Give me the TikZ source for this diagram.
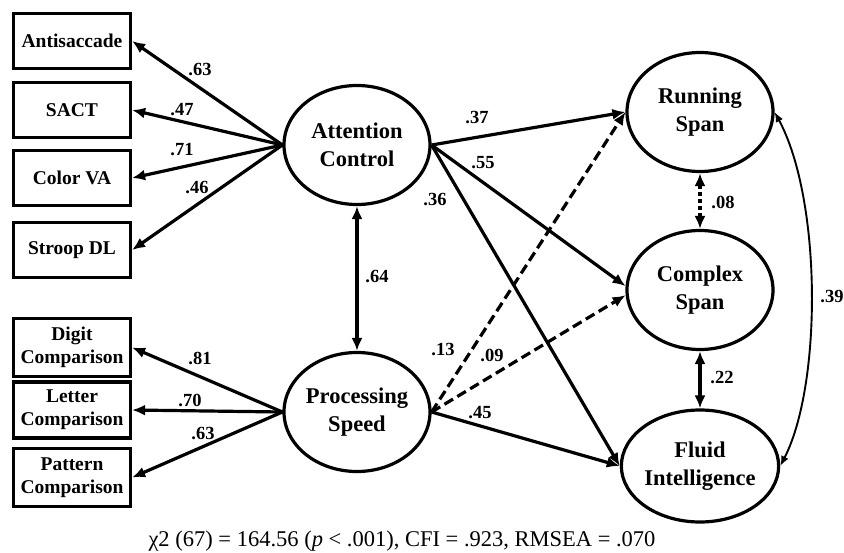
\documentclass[tikz,border=0pt]{standalone}
\usepackage{fontspec}
\setmainfont{Liberation Serif}
\usetikzlibrary{shapes.geometric,arrows.meta}
\begin{document}
\begin{tikzpicture}[x=1pt,y=-1pt,
 box/.style={draw,line width=3.2pt,minimum width=117pt,minimum height=55pt,inner sep=0pt,align=center,font=\fontsize{19.5}{23}\selectfont\bfseries},
 lat/.style={draw,ellipse,line width=3.2pt,minimum width=146pt,minimum height=119pt,inner sep=0pt,align=center,font=\fontsize{22.5}{28}\selectfont\bfseries},
 arr/.style={line width=3.2pt,-{Latex[length=13pt,width=11pt]}},
 darr/.style={line width=3.2pt,{Latex[length=13pt,width=11pt]}-{Latex[length=13pt,width=11pt]}},
 dsh/.style={dash pattern=on 10pt off 5pt},
 dtt/.style={dash pattern=on 4pt off 3pt},
 lbl/.style={font=\fontsize{18.5}{20}\selectfont\bfseries,inner sep=0pt}
]
\useasboundingbox[fill=white] (0,0) rectangle (844,552);

% observed boxes
\node[box] (anti) at (72,41) {Antisaccade};
\node[box] (sact) at (72,110) {SACT};
\node[box] (cva) at (72,178) {Color VA};
\node[box] (sdl) at (72,250) {Stroop DL};
\node[box,minimum height=58pt] (dig) at (72,347.5) {Digit\\Comparison};
\node[box,minimum height=56pt] (let) at (72,410) {Letter\\Comparison};
\node[box,minimum height=58pt] (pat) at (72,477.5) {Pattern\\Comparison};

% latent
\node[lat] (ac) at (357,145) {Attention\\Control};
\node[lat] (ps) at (357,412) {Processing\\Speed};
\node[lat] (rs) at (700,112) {Running\\Span};
\node[lat] (cs) at (700,290) {Complex\\Span};
\node[lat,minimum height=112pt] (fi) at (700,466) {Fluid\\Intelligence};

% loadings
\draw[arr] (ac.west) -- (anti.east);
\draw[arr] (ac.west) -- (sact.east);
\draw[arr] (ac.west) -- (cva.east);
\draw[arr] (ac.west) -- (sdl.east);
\draw[arr] (ps.west) -- (dig.east);
\draw[arr] (ps.west) -- (let.east);
\draw[arr] (ps.west) -- (pat.east);

% structural
\draw[darr] (ac.south) -- (ps.north);
\draw[arr] (ac.east) -- (rs.west);
\draw[arr] (ac.east) -- (cs.177);
\draw[arr] (ac.east) -- (fi.west);
\draw[arr,dsh] (ps.east) -- (rs.west);
\draw[arr,dsh] (ps.east) -- (cs.184);
\draw[arr] (ps.east) -- (fi.west);
\draw[darr,dtt] (rs.south) -- (cs.north);
\draw[darr] (cs.south) -- (fi.north);
\draw[line width=1.9pt,{Latex[length=10pt,width=8pt]}-{Latex[length=10pt,width=8pt]}] (rs.east) .. controls (822,200) and (822,385) .. (fi.east);

% labels
\node[lbl] (l1) at (200,70) {.63};
\node[lbl] (l2) at (182,110) {.47};
\node[lbl] (l3) at (182,150) {.71};
\node[lbl] (l4) at (197,188) {.46};
\node[lbl] (l5) at (200,358) {.81};
\node[lbl] (l6) at (190,400) {.70};
\node[lbl] (l7) at (203,434) {.63};
\node[lbl] (l8) at (377,277) {.64};
\node[lbl] (l9) at (477,118) {.37};
\node[lbl] (l10) at (483,163) {.55};
\node[lbl] (l11) at (435,200) {.36};
\node[lbl] (l12) at (443,350) {.13};
\node[lbl] (l13) at (492,355) {.09};
\node[lbl] (l14) at (480,413) {.45};
\node[lbl] (l15) at (723,202) {.08};
\node[lbl] (l16) at (722,378) {.22};
\node[lbl] (l17) at (832,297) {.39};

\node[font=\fontsize{22.5}{26}\selectfont,anchor=base,inner sep=0pt] (cap) at (402,546) {χ2 (67) = 164.56 (\textit{p} < .001), CFI = .923, RMSEA = .070};
\end{tikzpicture}
\end{document}
